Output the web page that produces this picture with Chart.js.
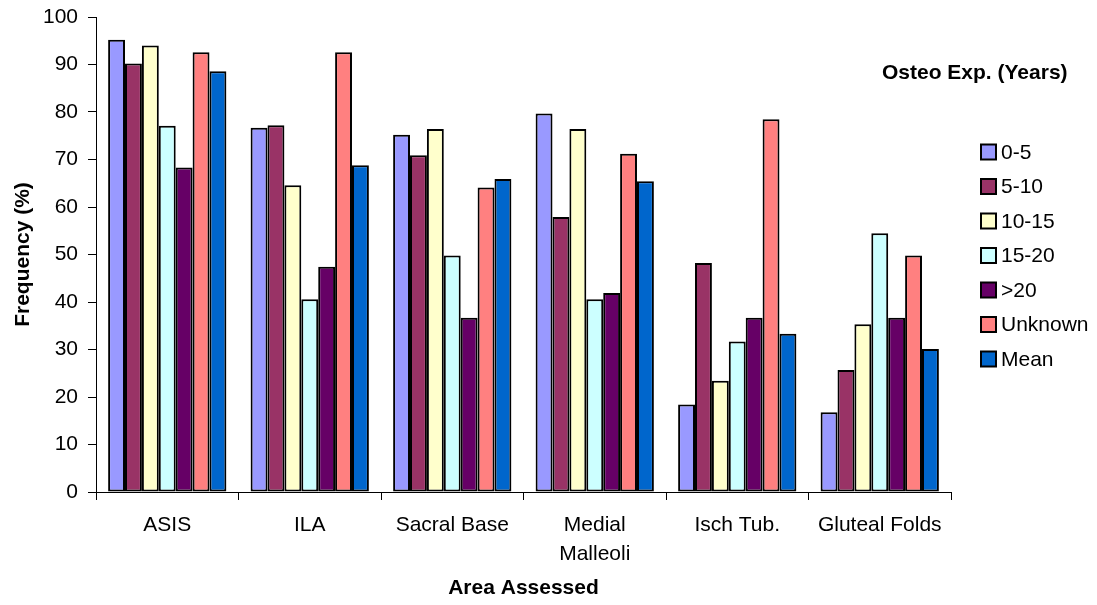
<!DOCTYPE html>
<html>
<head>
<meta charset="utf-8">
<title>Frequency by Area Assessed</title>
<script src="https://cdn.jsdelivr.net/npm/chart.js@4/dist/chart.umd.min.js"></script>
<style>
  html, body { margin: 0; padding: 0; background: #fff; }
  #wrap { width: 1097px; height: 605px; }
</style>
</head>
<body>
<div id="wrap"><canvas id="c" width="1097" height="605"></canvas></div>
<script>
// Areas assessed (x categories)
const areas = ['ASIS', 'ILA', 'Sacral Base', ['Medial', 'Malleoli'], 'Isch Tub.', 'Gluteal Folds'];

// Osteopathic experience groups (series names)
const groups = ['0-5', '5-10', '10-15', '15-20', '>20', 'Unknown', 'Mean'];

// Frequency (%) per group, one value per area
const exp0to5    = [95.2, 76.7, 75.2, 79.7, 18.4, 16.8];
const exp5to10   = [90.2, 77.2, 70.9, 57.9, 48.2, 25.7];
const exp10to15  = [94.0, 64.6, 76.4, 76.4, 23.4, 35.3];
const exp15to20  = [77.1, 40.6, 49.8, 40.6, 31.7, 54.5];
const expOver20  = [68.3, 47.4, 36.7, 41.9, 36.7, 36.7];
const expUnknown = [92.6, 92.6, 64.1, 71.2, 78.5, 49.8];
const expMean    = [88.6, 68.8, 65.9, 65.4, 33.3, 30.1];

// y-axis range and step
const yMin = 0, yMax = 100, yStep = 10;

const seriesValues = [exp0to5, exp5to10, exp10to15, exp15to20, expOver20, expUnknown, expMean];
const seriesColors = ['#9999FF', '#993366', '#FFFFCC', '#CCFFFF', '#660066', '#FF8080', '#0066CC'];

const FONT = '"Liberation Sans", Arial, Helvetica, sans-serif';

// Legend drawn at the right of the plot, with its own bold heading
const sideLegend = {
  id: 'sideLegend',
  afterDraw(chart) {
    const ctx = chart.ctx;
    ctx.save();
    ctx.fillStyle = '#000';
    ctx.font = 'bold 21px ' + FONT;
    ctx.textBaseline = 'middle';
    ctx.textAlign = 'left';
    ctx.fillText('Osteo Exp. (Years)', 882, 73);
    ctx.font = '21px ' + FONT;
    chart.data.datasets.forEach((ds, i) => {
      const cy = 152 + i * 34.5;
      ctx.fillStyle = ds.backgroundColor;
      ctx.fillRect(981, cy - 7.5, 15, 15);
      ctx.lineWidth = 2;
      ctx.strokeStyle = '#000';
      ctx.strokeRect(981, cy - 7.5, 15, 15);
      ctx.fillStyle = '#000';
      ctx.fillText(ds.label, 1001, cy + 1);
    });
    ctx.restore();
  }
};

const datasets = groups.map((name, i) => ({
  label: name,
  data: seriesValues[i],
  backgroundColor: seriesColors[i],
  borderColor: '#000',
  borderWidth: 2,
  borderSkipped: false,
  barPercentage: 1.0,
  categoryPercentage: 0.83
}));

new Chart(document.getElementById('c'), {
  type: 'bar',
  data: { labels: areas, datasets },
  options: {
    responsive: false,
    animation: false,
    devicePixelRatio: 1,
    layout: { padding: { left: 0, top: 17, right: 146, bottom: 0 } },
    plugins: {
      legend: { display: false },
      tooltip: { enabled: false },
      title: { display: false }
    },
    scales: {
      x: {
        grid: { display: true, drawOnChartArea: false, drawTicks: true, tickLength: 8, color: '#000', offset: true },
        border: { display: true, color: '#000', width: 1 },
        ticks: { color: '#000', font: { family: FONT, size: 21, lineHeight: 1.36 }, padding: 11, maxRotation: 0, autoSkip: false },
        title: { display: true, text: 'Area Assessed', color: '#000', font: { family: FONT, size: 21, weight: 'bold', lineHeight: 1.2 }, padding: { top: 0, bottom: 4 } },
        afterFit(scale) { scale.height = 113; scale.paddingLeft = 0; scale.paddingRight = 0; }
      },
      y: {
        min: yMin, max: yMax,
        grid: { display: true, drawOnChartArea: false, drawTicks: true, tickLength: 8, color: '#000' },
        border: { display: true, color: '#000', width: 1 },
        ticks: { stepSize: yStep, color: '#000', font: { family: FONT, size: 21 }, padding: 10 },
        title: { display: true, text: 'Frequency (%)', color: '#000', font: { family: FONT, size: 21, weight: 'bold', lineHeight: 1.2 }, padding: { top: 11, bottom: 0 } },
        afterFit(scale) { scale.width = 96; scale.paddingTop = 0; scale.paddingBottom = 0; }
      }
    }
  },
  plugins: [sideLegend]
});
</script>
</body>
</html>
